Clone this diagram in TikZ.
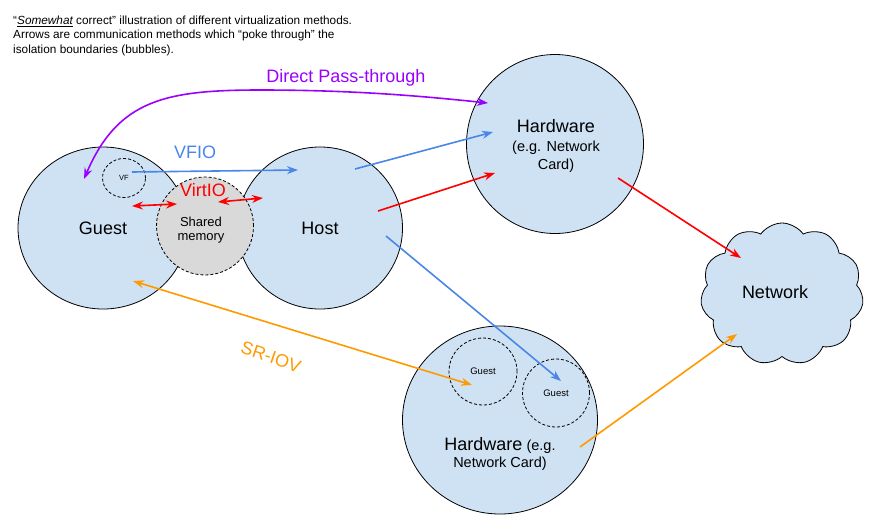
\documentclass[tikz,border=0pt]{standalone}
\usepackage{fontspec}
\setmainfont{Liberation Sans}
\usetikzlibrary{shapes.geometric,shapes.symbols,arrows.meta}
\definecolor{bub}{HTML}{CFE2F3}
\definecolor{shmgray}{HTML}{D9D9D9}
\definecolor{cblue}{HTML}{4A86E8}
\definecolor{cred}{HTML}{FF0000}
\definecolor{corange}{HTML}{FF9900}
\definecolor{cpurple}{HTML}{9900FF}
\newcommand{\fs}[1]{\fontsize{#1}{#1}\selectfont}
\begin{document}
\begin{tikzpicture}[x=1pt,y=-1pt,
  bubble/.style={ellipse,draw=black,line width=0.8pt,fill=bub,inner sep=0pt},
  dbubble/.style={ellipse,draw=black,line width=0.8pt,dash pattern=on 3pt off 2pt,inner sep=0pt},
  big/.style={font=\fs{18}},
  conn/.style={line width=1.6pt,-{Stealth[length=11pt,width=8pt]}},
  dconn/.style={line width=1.6pt,{Stealth[length=11pt,width=8pt]}-{Stealth[length=11pt,width=8pt]}},
  note/.style={anchor=base west,font=\fs{11.8},inner sep=0pt}
]
\useasboundingbox (0,0) rectangle (883,520);
% notes
\node[note] (n1) at (13,24.5) {“\textit{\underline{Somewhat}} correct” illustration of different virtualization methods.};
\node[note] (n2) at (13,38.8) {Arrows are communication methods which “poke through” the};
\node[note] (n3) at (13,53) {isolation boundaries (bubbles).};
% bubbles
\node[bubble,minimum width=170pt,minimum height=162pt,big] (guest) at (103,228) {Guest};
\node[bubble,minimum width=165pt,minimum height=162pt,big] (host) at (320,228) {Host};
\node[ellipse,draw=black,line width=0.8pt,dash pattern=on 3pt off 2pt,fill=shmgray,minimum width=97pt,minimum height=98pt,inner sep=0pt] (shm) at (205,226) {};
\node[font=\fs{13},align=center] (shmlbl) at (201,230) {Shared\\[1pt]memory};
\node[dbubble,minimum width=43pt,minimum height=39pt,font=\fs{7.5}] (vf) at (124,178) {VF};
\node[bubble,minimum width=177pt,minimum height=179pt] (hwtop) at (555,144) {};
\node[align=center,font=\fs{14.5},inner sep=0pt] (hwtoplbl) at (556,146)
  {{\fs{18}Hardware}\\[4pt](e.g. Network\\[3.5pt]Card)};
\node[bubble,minimum width=195pt,minimum height=188pt] (hwbot) at (500,420) {};
\node[align=center,inner sep=0pt,font=\fs{14.5}] (hwbotlbl) at (500,454)
  {{\fs{18}Hardware} (e.g.\\[3pt]Network Card)};
\node[dbubble,minimum width=68pt,minimum height=67pt,font=\fs{9.5}] (g1) at (483,371.5) {Guest};
\node[dbubble,minimum width=67pt,minimum height=68pt,font=\fs{9.5}] (g2) at (556,393) {Guest};
\node[cloud,cloud puffs=11,cloud puff arc=110,cloud ignores aspect,draw=black,line width=0.8pt,fill=bub,minimum width=163pt,minimum height=142pt,inner sep=0pt] (net) at (782,294) {};
\node[big] (netlbl) at (775,292) {Network};
% endpoints
\coordinate (pGuest) at (84,179);
\coordinate (pHwA) at (488,103);
\coordinate (vfS) at (132,172);
\coordinate (hostV) at (298,170);
\coordinate (hostB1) at (355,169);
\coordinate (hwB) at (493,132);
\coordinate (hostR) at (378,211);
\coordinate (hwR) at (495,173);
\coordinate (hwOut) at (618,178);
\coordinate (netR) at (741,258);
\coordinate (hostB2) at (386,236);
\coordinate (g2in) at (561,381);
\coordinate (guestO) at (133,281);
\coordinate (g1in) at (472,385);
\coordinate (hwbOut) at (580,447);
\coordinate (netO) at (737,334);
\coordinate (vioA) at (132,206);
\coordinate (vioB) at (177,204);
\coordinate (vioC) at (218,202);
\coordinate (vioD) at (263,198);
% connectors
\draw[dconn,cpurple] (pGuest) .. controls (118,100) and (165,90) .. (260,90) .. controls (360,90) and (430,97) .. (pHwA);
\node[font=\fs{18},text=cpurple] (dpt) at (346,78) {Direct Pass-through};
\draw[conn,cblue] (vfS) -- (hostV);
\node[font=\fs{18},text=cblue] (vfio) at (195,152) {VFIO};
\draw[conn,cblue] (hostB1) -- (hwB);
\draw[conn,cred] (hostR) -- (hwR);
\draw[conn,cred] (hwOut) -- (netR);
\draw[conn,cblue] (hostB2) -- (g2in);
\draw[dconn,corange] (guestO) -- (g1in);
\node[font=\fs{18},text=corange,rotate=-19] (sriov) at (271,357) {SR-IOV};
\draw[conn,corange] (hwbOut) -- (netO);
\draw[dconn,cred] (vioA) -- (vioB);
\draw[dconn,cred] (vioC) -- (vioD);
\node[font=\fs{18},text=cred] (virtio) at (203,190) {VirtIO};
\end{tikzpicture}
\end{document}
